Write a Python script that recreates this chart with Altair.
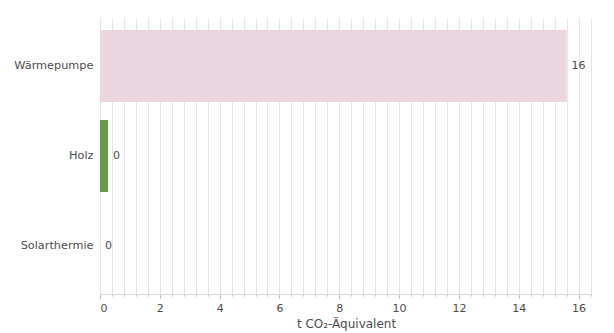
import altair as alt
import pandas as pd

categories = ["Wärmepumpe", "Holz", "Solarthermie"]
values = [15.6, 0.27, 0.0]
colors = ["#ebd5de", "#6a9a4e", "#b9b9b9"]

df = pd.DataFrame({"cat": categories, "val": values, "col": colors})

grid_vals = [round(i * 0.4, 1) for i in range(0, 42)]

x_scale = alt.Scale(domain=[0, 16.45], nice=False, zero=True)
major = "abs(datum.value - round(datum.value/2)*2) < 0.01"

x_axis = alt.Axis(
    values=grid_vals,
    labelExpr=f"{major} ? format(datum.value, 'd') : ''",
    grid=True,
    gridColor="#e6e6e6",
    gridWidth=1,
    domainColor="#dddddd",
    tickColor="#bbbbbb",
    tickSize={"condition": {"test": major, "value": 4}, "value": 2},
    labelFontSize=11,
    labelColor="#4d4d4d",
    labelFont="DejaVu Sans",
    labelPadding=4,
    titleFontSize=12,
    titleFontWeight="normal",
    titleColor="#4d4d4d",
    titleFont="DejaVu Sans",
    titlePadding=5,
    labelOverlap=False,
)
y_axis = alt.Axis(ticks=False, domain=False, labelPadding=7, labelFontSize=11.3,
                  labelColor="#4d4d4d", labelFont="DejaVu Sans")
y_scale = alt.Scale(paddingInner=0.2, paddingOuter=0.133)

bars = alt.Chart(df).mark_bar().encode(
    x=alt.X("val:Q", scale=x_scale, title="t CO₂-Äquivalent", axis=x_axis),
    y=alt.Y("cat:N", sort=categories, title=None, scale=y_scale, axis=y_axis),
    color=alt.Color("col:N", scale=None, legend=None),
)

labels = alt.Chart(df).mark_text(
    align="left", baseline="middle", dx=5, fontSize=11, color="#4d4d4d", font="DejaVu Sans"
).encode(
    x=alt.X("val:Q", scale=x_scale, title="t CO₂-Äquivalent", axis=x_axis),
    y=alt.Y("cat:N", sort=categories, title=None, scale=y_scale, axis=y_axis),
    text=alt.Text("val:Q", format=".0f"),
)

chart = (bars + labels).properties(
    width=492,
    height=276,
    autosize=alt.AutoSizeParams(type="none"),
    padding={"left": 92, "top": 10, "right": 14, "bottom": 40},
).configure_view(stroke=None)

chart.save("out.html", embed_options={"renderer": "svg", "actions": False})
